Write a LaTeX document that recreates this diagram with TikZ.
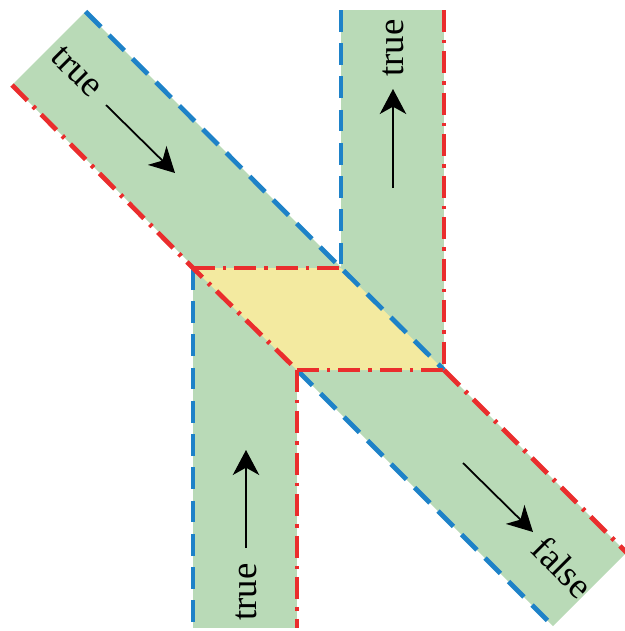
\documentclass[tikz,border=0pt]{standalone}
\usepackage{fontspec}
\setmainfont{Liberation Serif}
\usepackage{tikz}
\usetikzlibrary{arrows.meta}

\definecolor{bandgreen}{RGB}{185,218,183}
\definecolor{crossyellow}{RGB}{243,234,160}
\definecolor{edgeblue}{RGB}{30,130,200}
\definecolor{edgered}{RGB}{234,45,45}

\begin{document}
\begin{tikzpicture}[x=0.34pt, y=-0.34pt]
    % Styles
    \tikzstyle{bluedash} = [draw=edgeblue, line width=1.6pt, dash pattern=on 7.4pt off 3.9pt]
    \tikzstyle{reddash} = [draw=edgered, line width=1.6pt, dash pattern=on 7.4pt off 2.8pt on 1.1pt off 2.8pt]
    \tikzstyle{flow} = [line width=0.6pt, -{Stealth[length=8.5pt, width=9pt, inset=2.5pt]}]
    \tikzstyle{lbl} = [inner sep=0pt, font=\fontsize{12.5}{14}\selectfont]

    \useasboundingbox (0,0) rectangle (624,631);

    % Corners
    \coordinate (dtl) at (85.5,11.5);
    \coordinate (dbl) at (12,85);
    \coordinate (dtr) at (626.5,552.5);
    \coordinate (dbr) at (553,626);
    \coordinate (xa) at (193,268);
    \coordinate (xb) at (341,268);
    \coordinate (xc) at (444,370);
    \coordinate (xd) at (297,370);

    % Bands
    \fill [bandgreen] (dtl) -- (dtr) -- (dbr) -- (dbl) -- cycle;
    \fill [bandgreen] (341,10) rectangle (xc);
    \fill [bandgreen] (xa) rectangle (297,628);
    \fill [crossyellow] (xa) -- (xb) -- (xc) -- (xd) -- cycle;

    % Edges
    \draw [bluedash] (dtl) -- (xb) -- (xc);
    \draw [bluedash] (341,10) -- (xb);
    \draw [bluedash] (xa) -- (193,628);
    \draw [bluedash] (xd) -- (dbr);
    \draw [reddash] (dbl) -- (xa) -- (xd);
    \draw [reddash] (xa) -- (xb);
    \draw [reddash] (xd) -- (xc);
    \draw [reddash] (444,10) -- (xc);
    \draw [reddash] (xd) -- (297,628);
    \draw [reddash] (xc) -- (dtr);

    % Labels
    \node [lbl, rotate=-45] (tdiag) at (77,72) {true};
    \node [lbl, rotate=90] (tup) at (393,48) {true};
    \node [lbl, rotate=90] (tdown) at (246,592) {true};
    \node [lbl, rotate=-45] (fdiag) at (563,567) {false};

    % Arrows
    \coordinate (s1) at (106,105);
    \coordinate (e1) at (175,173);
    \coordinate (s2) at (393,188);
    \coordinate (e2) at (393,89);
    \coordinate (s3) at (246,548);
    \coordinate (e3) at (246,450);
    \coordinate (s4) at (463,463);
    \coordinate (e4) at (533,532);
    \draw [flow] (s1) -- (e1);
    \draw [flow] (s2) -- (e2);
    \draw [flow] (s3) -- (e3);
    \draw [flow] (s4) -- (e4);
\end{tikzpicture}
\end{document}
